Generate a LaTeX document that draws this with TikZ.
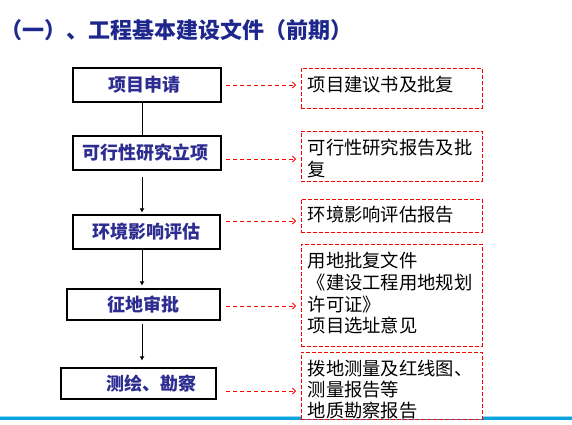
\documentclass[tikz,border=0pt]{standalone}
\usepackage{fontspec}
\newfontfamily\cjk{Noto Sans CJK SC}
\usetikzlibrary{arrows.meta}
\definecolor{titleblue}{RGB}{30,40,140}
\definecolor{boxblue}{RGB}{45,45,145}
\definecolor{barblue}{RGB}{10,165,225}
\definecolor{barlight}{RGB}{150,215,240}
\begin{document}
\begin{tikzpicture}[x=1pt,y=-1pt,
  lbox/.style={draw=black, line width=1.2pt, inner sep=0pt, fill=white,
    font=\cjk\bfseries\fontsize{18}{20}\selectfont, text=boxblue},
  rbox/.style={draw=red, line width=0.9pt, dash pattern=on 4pt off 2pt, fill=white,
    inner sep=0pt, minimum width=181pt},
  rtext/.style={anchor=base west, inner sep=0pt, font=\cjk\fontsize{18.3}{21}\selectfont, text=black},
  conn/.style={draw=black, line width=0.9pt},
  conna/.style={conn, -{Latex[length=4pt,width=5pt]}},
  rarrow/.style={draw=red, line width=0.9pt, dash pattern=on 4pt off 3pt,
    -{Straight Barb[length=3pt,width=6pt]}, shorten >=4.5pt}
]
\useasboundingbox (0,0) rectangle (572,424);
% bottom bar
\fill[barblue] (0,417.3) rectangle (572,420.3);
\fill[barlight] (0,416.3) rectangle (572,417.3);
% title
\node[anchor=west, inner sep=0pt, font=\cjk\bfseries\fontsize{22}{24}\selectfont, text=titleblue]
  (title) at (0,30) {（一）、工程基本建设文件（前期）};
% left boxes
\node[lbox, minimum width=148pt, minimum height=34pt] (b1) at (147,85) {项目申请\hspace*{6pt}};
\node[lbox, minimum width=148pt, minimum height=34pt] (b2) at (147,153) {可行性研究立项\hspace*{4pt}};
\node[lbox, minimum width=147pt, minimum height=34pt] (b3) at (146.5,232) {环境影响评估};
\node[lbox, minimum width=153pt, minimum height=31pt] (b4) at (143.5,304.5) {征地审批};
\node[lbox, minimum width=155pt, minimum height=31pt] (b5) at (138.5,383.5) {\hspace*{25pt}测绘、勘察};
% vertical connectors
\coordinate (ax) at (142,0);
\draw[conn] (b1.south -| ax) -- (b2.north -| ax);
\draw[conna, shorten <=6pt, shorten >=2pt] (b2.south -| ax) -- (b3.north -| ax);
\draw[conna, shorten >=3pt] (b3.south -| ax) -- (b4.north -| ax);
\draw[conna, shorten <=3pt, shorten >=7pt] (b4.south -| ax) -- (b5.north -| ax);
% right boxes
\node[rbox, minimum height=40pt] (r1) at (391.5,88) {};
\node[rbox, minimum height=50pt] (r2) at (391.5,156) {};
\node[rbox, minimum height=33pt] (r3) at (391.5,215.5) {};
\node[rbox, minimum height=102pt] (r4) at (391.5,295) {};
\node[rbox, minimum height=67pt] (r5) at (391.5,385.6) {};
% right texts
\node[rtext] (t1) at (307.5,91) {项目建议书及批复};
\node[rtext] (t2a) at (307.5,154.5) {可行性研究报告及批};
\node[rtext] (t2b) at (307.5,176) {复};
\node[rtext] (t3) at (307.5,221) {环境影响评估报告};
\node[rtext] (t4a) at (307.5,267.5) {用地批复文件};
\node[rtext] (t4b) at (307.5,289.5) {《建设工程用地规划};
\node[rtext] (t4c) at (307.5,311) {许可证》};
\node[rtext] (t4d) at (307.5,332.5) {项目选址意见};
\node[rtext] (t5a) at (307.5,375) {拨地测量及红线图、};
\node[rtext] (t5b) at (307.5,396) {测量报告等};
\node[rtext] (t5c) at (307.5,417) {地质勘察报告};
% red dashed arrows
\coordinate (s1) at (226,85);
\coordinate (s2) at (226,159);
\coordinate (s3) at (226,221);
\coordinate (s4) at (226,306);
\coordinate (s5) at (226,391);
\draw[rarrow] (s1) -- (s1 -| r1.west);
\draw[rarrow] (s2) -- (s2 -| r2.west);
\draw[rarrow] (s3) -- (s3 -| r3.west);
\draw[rarrow] (s4) -- (s4 -| r4.west);
\draw[rarrow] (s5) -- (s5 -| r5.west);
\end{tikzpicture}
\end{document}
